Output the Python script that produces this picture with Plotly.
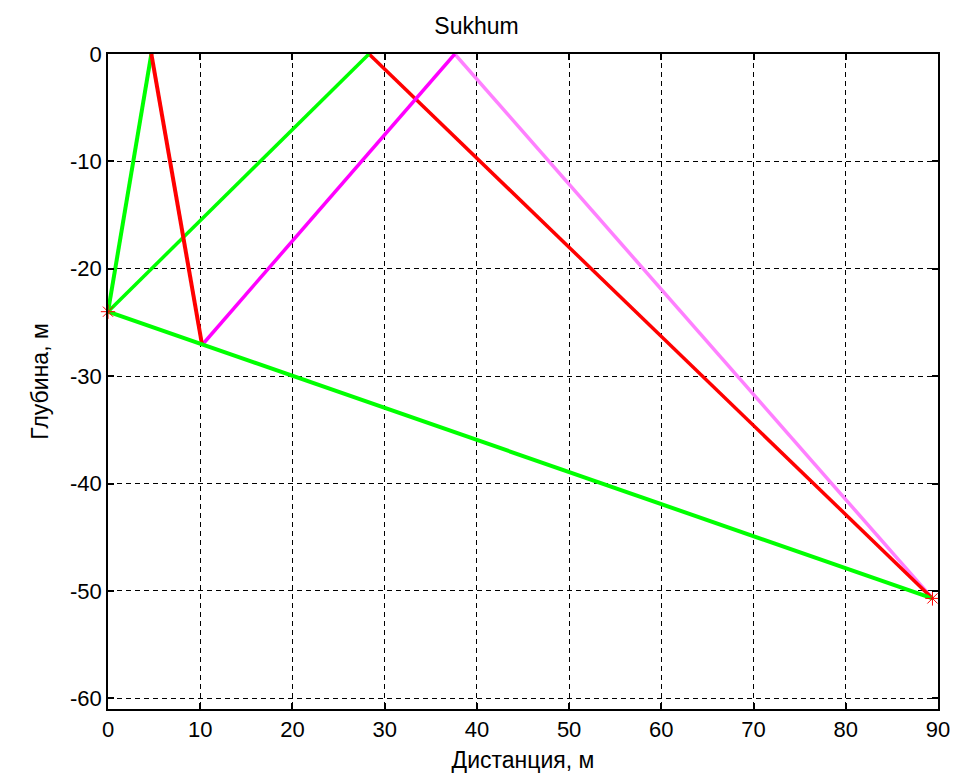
import plotly.graph_objects as go

# Ray paths (distance, m ; depth, m)
direct_x = [0, 89.4]
direct_y = [-24, -50.7]

surf_up_x = [0, 28.3]
surf_up_y = [-24, 0]
surf_down_x = [28.3, 89.4]
surf_down_y = [0, -50.7]

r3_up_x = [0, 4.7]
r3_up_y = [-24, 0]
r3_down_x = [4.7, 10.2]
r3_down_y = [0, -27.1]
r3_up2_x = [10.2, 37.6]
r3_up2_y = [-27.1, 0]
r3_down2_x = [37.6, 89.4]
r3_down2_y = [0, -50.7]

src_x = [0]
src_y = [-24]
rcv_x = [89.4]
rcv_y = [-50.7]

x_ticks = [0, 10, 20, 30, 40, 50, 60, 70, 80, 90]
y_ticks = [0, -10, -20, -30, -40, -50, -60]
y_ticktext = ["0", "-10", "-20", "-30", "-40", "-50", "-60"]

GREEN = "#00ff00"
RED = "#ff0000"
MAGENTA = "#ff00ff"
VIOLET = "#ff80ff"

fig = go.Figure()

def seg(x, y, color, w=3.5):
    fig.add_trace(go.Scatter(x=x, y=y, mode="lines", line=dict(color=color, width=w),
                             showlegend=False, hoverinfo="skip"))

seg(r3_down2_x, r3_down2_y, VIOLET)
seg(surf_down_x, surf_down_y, RED)
seg(r3_up2_x, r3_up2_y, MAGENTA)
seg(surf_up_x, surf_up_y, GREEN)
seg(r3_up_x, r3_up_y, GREEN, 4)
seg(r3_down_x, r3_down_y, RED, 4)
seg(direct_x, direct_y, GREEN, 4)

fig.add_trace(go.Scatter(x=src_x + rcv_x, y=src_y + rcv_y, mode="markers",
                         marker=dict(symbol="asterisk-open", size=12, color=RED,
                                     line=dict(color=RED, width=1)),
                         showlegend=False, cliponaxis=False))

FONT = "Liberation Sans, Arial, sans-serif"
axis_common = dict(
    showgrid=True, gridcolor="black", gridwidth=1, griddash="5px,4px",
    zeroline=False, showline=True, linecolor="black", linewidth=1.5, mirror="ticks",
    ticks="inside", ticklen=6, tickcolor="black", tickwidth=1.5,
    tickfont=dict(family=FONT, size=22, color="black"),
    automargin=False,
)

fig.update_layout(
    width=953, height=773,
    paper_bgcolor="white", plot_bgcolor="white",
    margin=dict(l=108, r=15, t=54, b=64),
    title=dict(text="Sukhum", x=0.5, xanchor="center", y=0.966, yanchor="middle",
               font=dict(family=FONT, size=23, color="black")),
    xaxis=dict(range=[0, 90], tickvals=x_ticks,
               title=dict(text="Дистанция, м",
                          font=dict(family=FONT, size=23, color="black")),
               **axis_common),
    yaxis=dict(range=[-61, 0], tickvals=y_ticks, ticktext=y_ticktext,
               title=dict(text="Глубина, м",
                          font=dict(family=FONT, size=23, color="black")),
               **axis_common),
)

fig.write_html("out.html")
